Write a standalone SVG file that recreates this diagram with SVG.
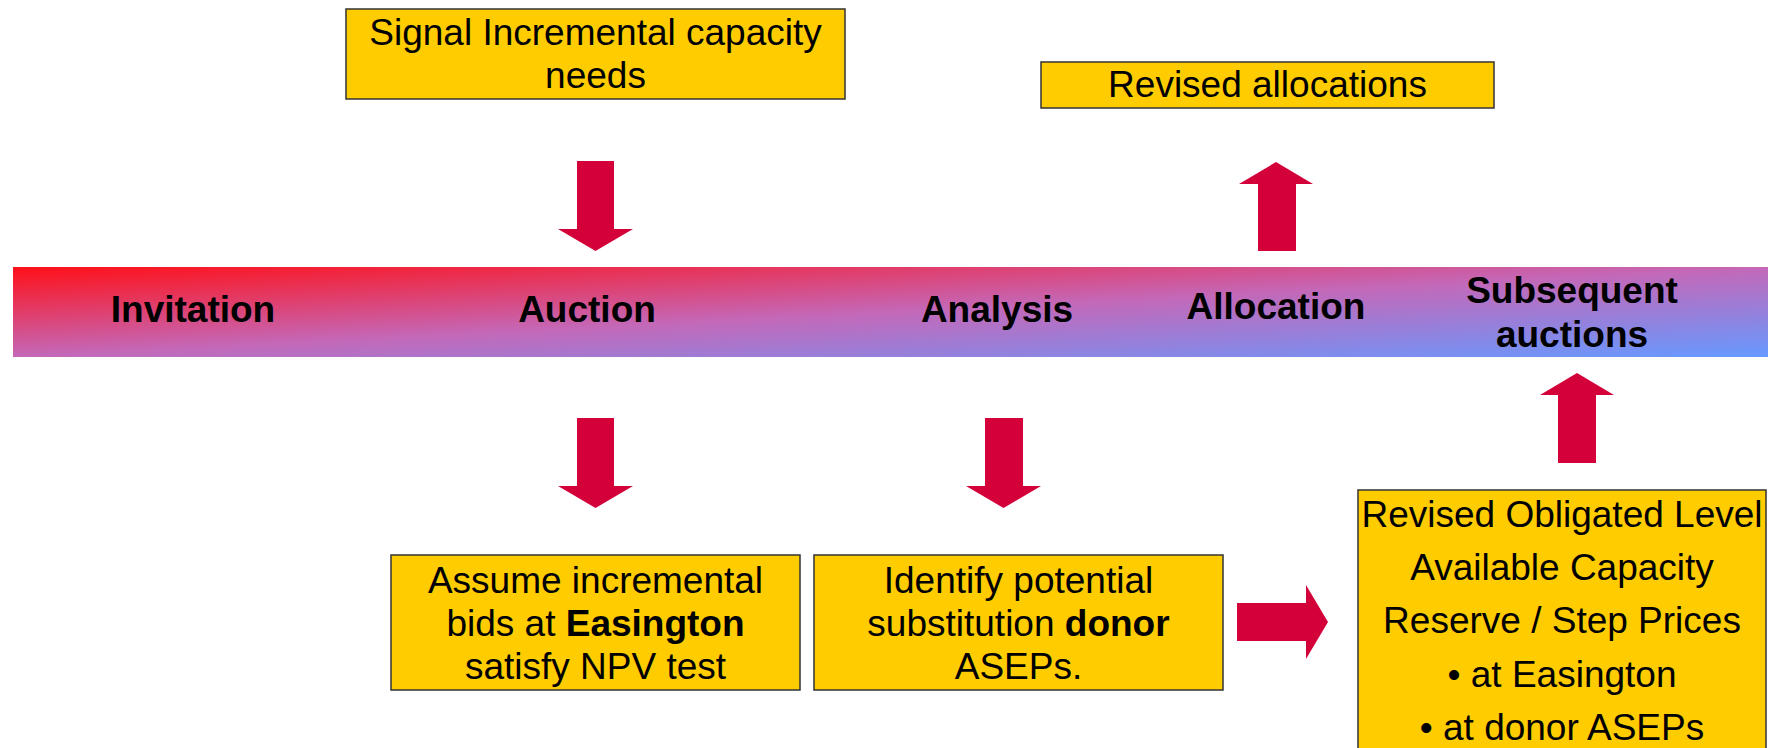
<svg xmlns="http://www.w3.org/2000/svg" width="1778" height="748" viewBox="0 0 1778 748">
<defs>
<linearGradient id="band" x1="0" y1="0" x2="1" y2="1">
<stop offset="0" stop-color="#ff1018"/>
<stop offset="0.5" stop-color="#c468b8"/>
<stop offset="1" stop-color="#6699ff"/>
</linearGradient>
<style>
.box{fill:#ffcc00;stroke:#333;stroke-width:1.5}
.arrow{fill:#d30039}
text{font-family:"Liberation Sans",Arial,sans-serif;font-size:37px;fill:#000;text-anchor:middle}
.b{font-weight:bold}
</style>
</defs>
<rect width="1778" height="748" fill="#fff"/>
<g id="band-bar">
<rect x="13" y="267" width="1755" height="90" fill="url(#band)"/>
<text class="b" x="193" y="322">Invitation</text>
<text class="b" x="587" y="322">Auction</text>
<text class="b" x="997" y="322">Analysis</text>
<text class="b" x="1276" y="319">Allocation</text>
<text class="b" x="1572" y="303">Subsequent</text>
<text class="b" x="1572" y="347">auctions</text>
</g>
<g id="signal">
<rect class="box" x="346" y="9" width="499" height="90"/>
<text x="595.5" y="45">Signal Incremental capacity</text>
<text x="595.5" y="88">needs</text>
</g>
<g id="revised-allocations">
<rect class="box" x="1041" y="62" width="453" height="46"/>
<text x="1267.5" y="97">Revised allocations</text>
</g>
<g id="assume">
<rect class="box" x="391" y="555" width="409" height="135"/>
<text x="595.5" y="593">Assume incremental</text>
<text x="595.5" y="636">bids at <tspan class="b">Easington</tspan></text>
<text x="595.5" y="679">satisfy NPV test</text>
</g>
<g id="identify">
<rect class="box" x="814" y="555" width="409" height="135"/>
<text x="1018.5" y="593">Identify potential</text>
<text x="1018.5" y="636">substitution <tspan class="b">donor</tspan></text>
<text x="1018.5" y="679">ASEPs.</text>
</g>
<g id="revised-obligated">
<rect class="box" x="1358" y="490" width="408" height="280"/>
<text x="1562" y="527">Revised Obligated Level</text>
<text x="1562" y="580">Available Capacity</text>
<text x="1562" y="633">Reserve / Step Prices</text>
<text x="1562" y="687">• at Easington</text>
<text x="1562" y="740">• at donor ASEPs</text>
</g>
<g id="connectors">
<polygon class="arrow" points="577,161 614,161 614,229 633,229 595.5,251 558,229 577,229"/>
<polygon class="arrow" points="1258,251 1296,251 1296,184 1313,184 1276,162 1239,184 1258,184"/>
<polygon class="arrow" points="577,418 614,418 614,486 633,486 595.5,508 558,486 577,486"/>
<polygon class="arrow" points="985,418 1023,418 1023,486 1041,486 1003.5,508 966,486 985,486"/>
<polygon class="arrow" points="1237,603 1306,603 1306,585 1328,622 1306,659 1306,641 1237,641"/>
<polygon class="arrow" points="1558,463 1596,463 1596,395 1614,395 1577,373 1540,395 1558,395"/>
</g>
</svg>
